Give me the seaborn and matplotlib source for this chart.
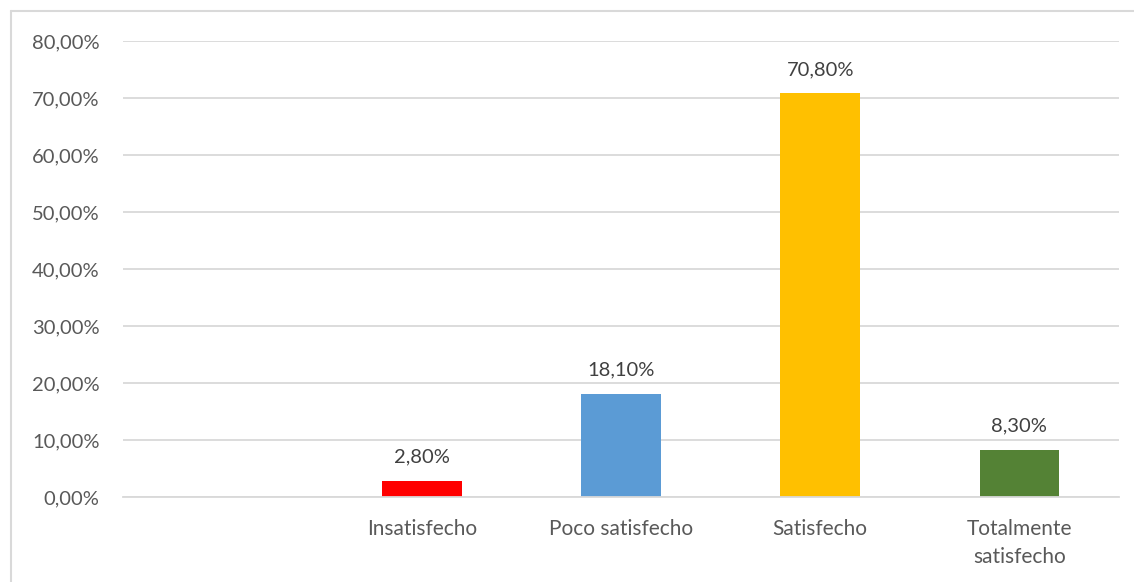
import numpy as np
import pandas as pd
import matplotlib
matplotlib.use("Agg")
import matplotlib.pyplot as plt
from matplotlib.lines import Line2D
import seaborn as sns

categories = ["", "Insatisfecho", "Poco satisfecho", "Satisfecho", "Totalmente\nsatisfecho"]
values = [np.nan, 2.80, 18.10, 70.80, 8.30]
colors = ["#FFFFFF", "#FF0000", "#5B9BD5", "#FFC000", "#548235"]
yticks = [0, 10, 20, 30, 40, 50, 60, 70, 80]

sns.set_theme(style="white")
plt.rcParams["font.family"] = ["Lato", "DejaVu Sans"]

df = pd.DataFrame({"cat": categories, "val": values})

fig = plt.figure(figsize=(11.34, 5.82), dpi=100)
ax = fig.add_axes([123/1134, 1 - 497/582, (1119-123)/1134, (497-41)/582])

sns.barplot(data=df, x="cat", y="val", hue="cat", palette=colors, order=categories,
            hue_order=categories, width=0.4, legend=False, ax=ax, saturation=1, edgecolor="none")

ax.set_xlim(-0.5, 4.5)
ax.set_ylim(0, 80)
ax.set_yticks(yticks)
ax.set_yticklabels([f"{v:.2f}".replace(".", ",") + "%" for v in yticks])
ax.grid(axis="y", color="#D9D9D9", linewidth=1.3)
ax.set_axisbelow(True)
for s in ["top", "right", "left"]:
    ax.spines[s].set_visible(False)
ax.spines["bottom"].set_color("#D9D9D9")
ax.spines["bottom"].set_linewidth(1.3)
ax.set_xlabel("")
ax.set_ylabel("")
ax.tick_params(axis="y", length=0, labelsize=14.5, colors="#595959", pad=17)
ax.tick_params(axis="x", length=0, labelsize=15, colors="#595959", pad=16)
for lbl in ax.get_xticklabels():
    lbl.set_linespacing(1.5)

for i, v in enumerate(values):
    if not np.isnan(v):
        ax.annotate(f"{v:.2f}".replace(".", ",") + "%", (i, v), xytext=(0, 11),
                    textcoords="offset points", ha="center", va="bottom",
                    fontsize=14.5, color="#404040")

fig.add_artist(Line2D([11/1134, 1.0], [1 - 11/582, 1 - 11/582], transform=fig.transFigure,
                      color="#D9D9D9", linewidth=1.5))
fig.add_artist(Line2D([11/1134, 11/1134], [0, 1 - 11/582], transform=fig.transFigure,
                      color="#D9D9D9", linewidth=1.5))

fig.savefig("out.png", dpi=100)
